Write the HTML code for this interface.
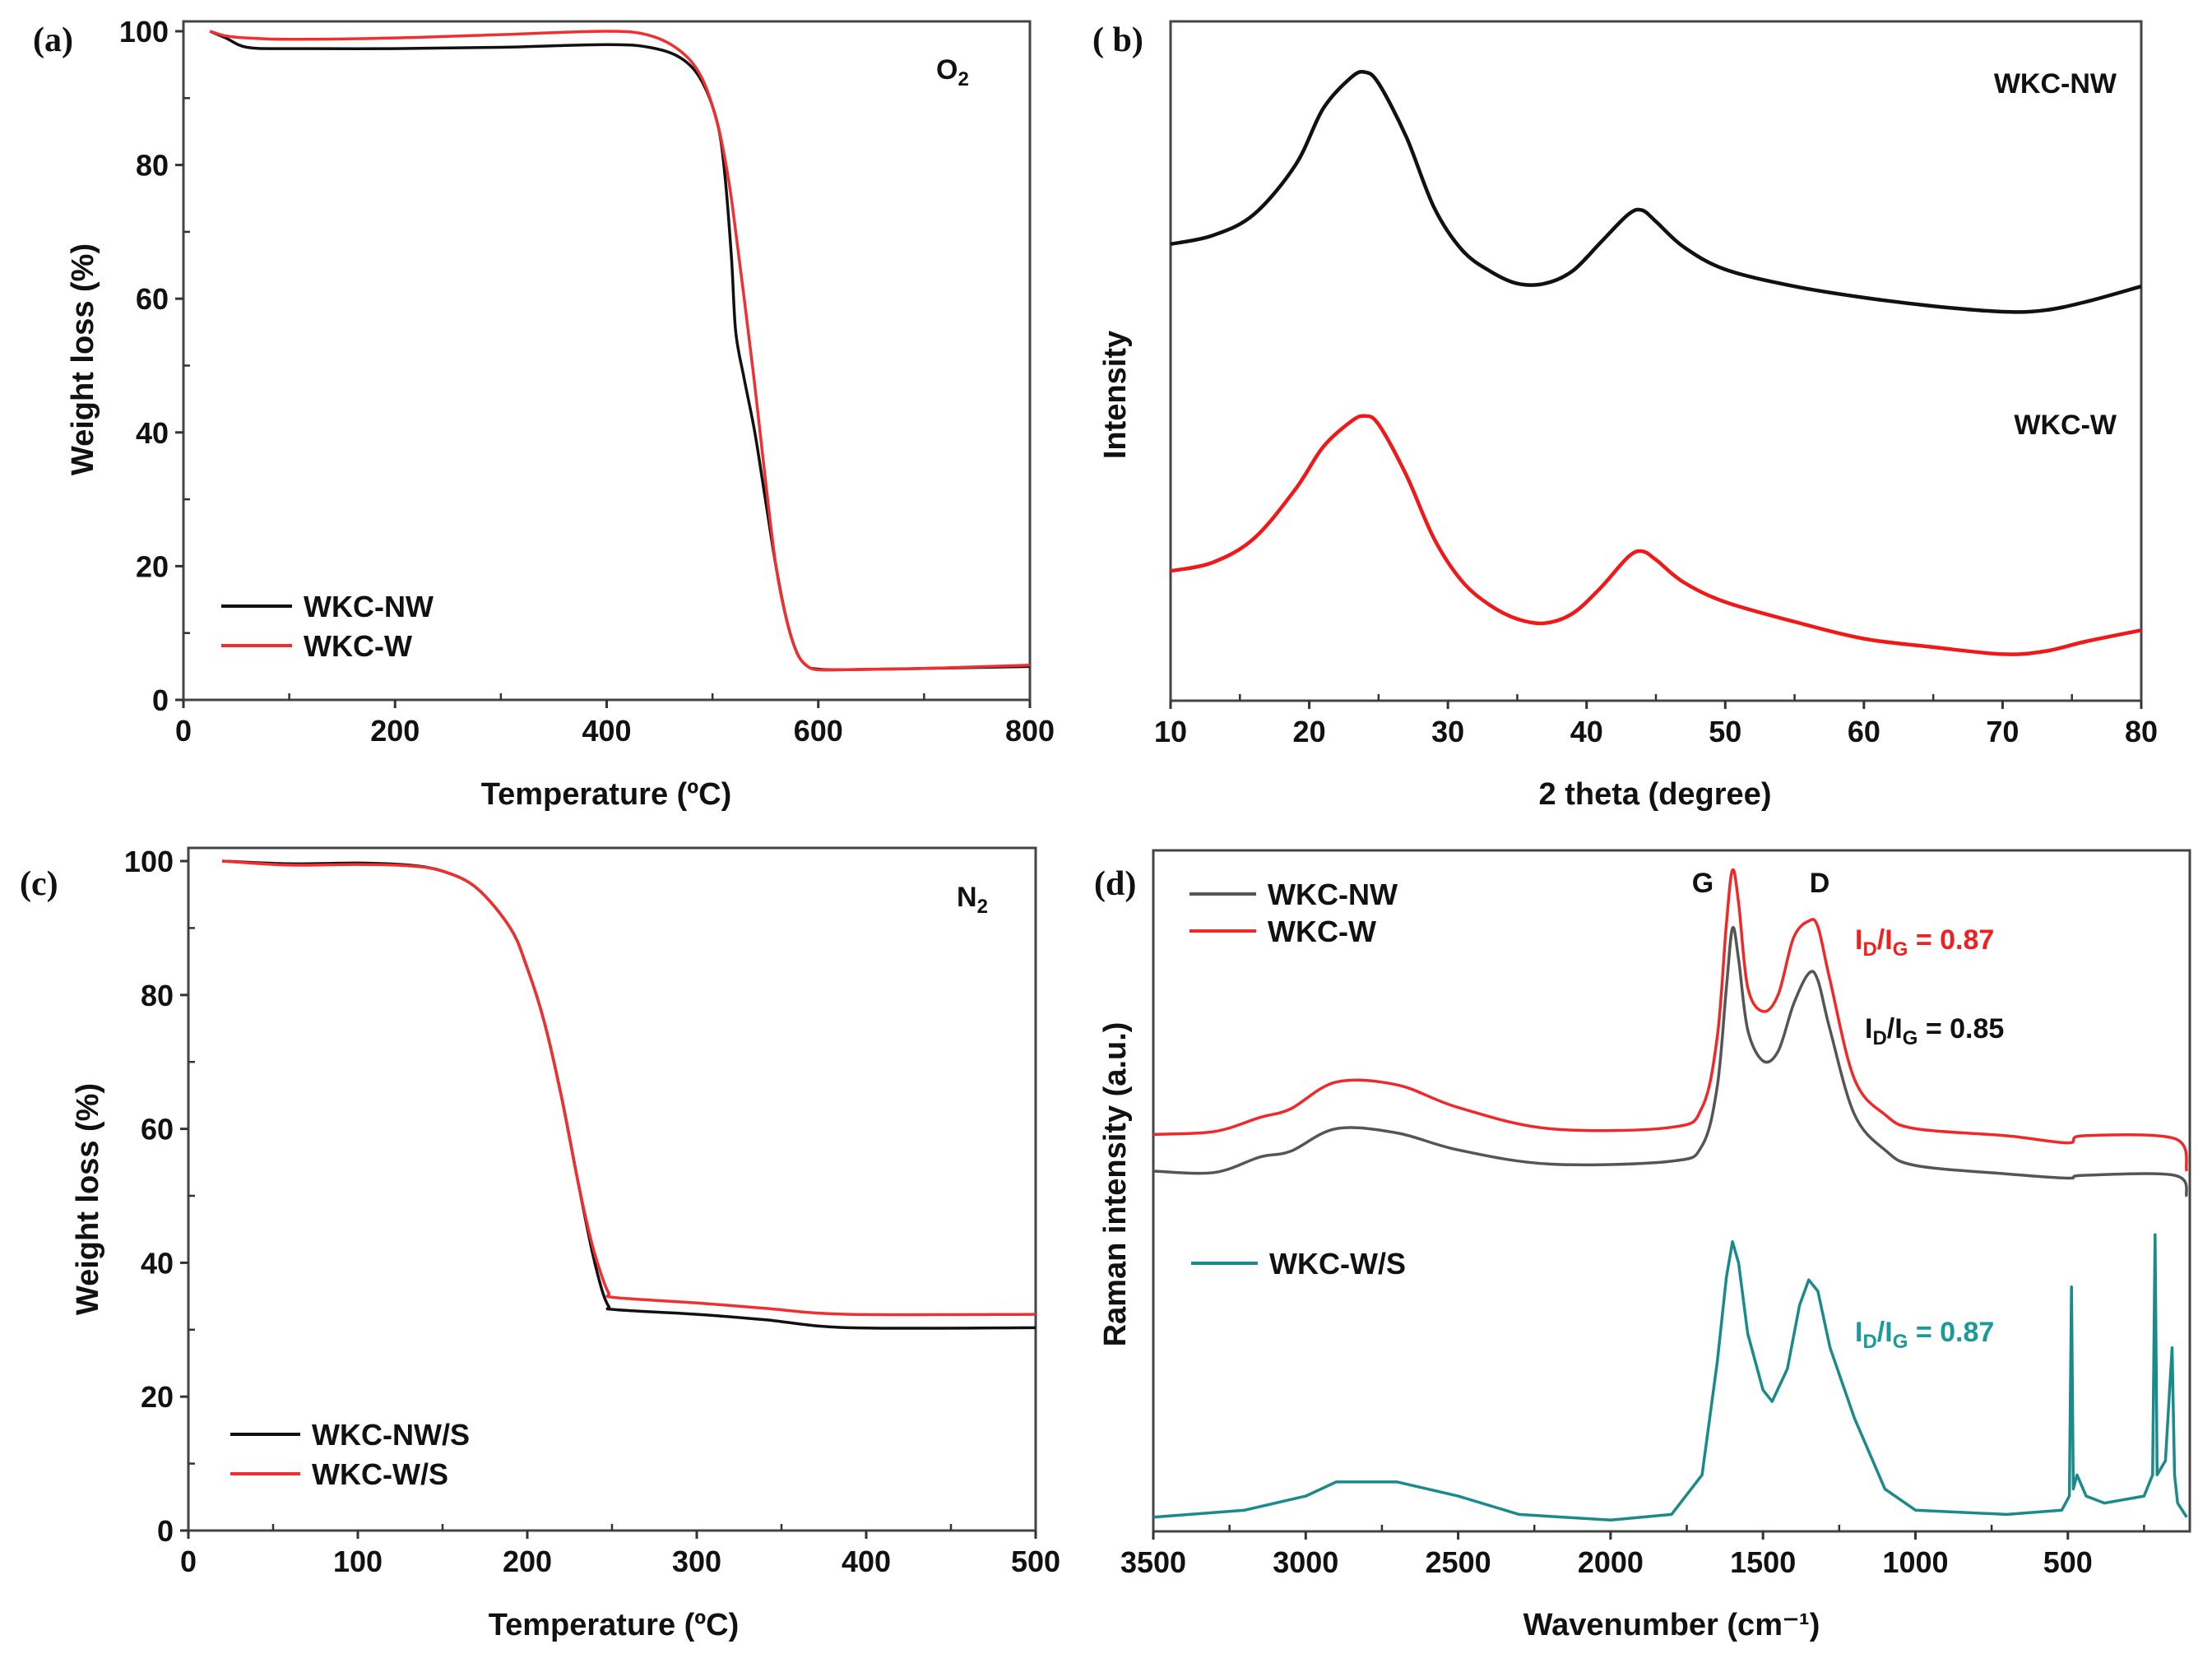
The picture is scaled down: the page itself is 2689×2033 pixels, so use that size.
<!DOCTYPE html>
<html><head><meta charset="utf-8"><style>
html,body{margin:0;padding:0;background:#fff;}
svg{display:block;}
</style></head>
<body>
<svg id="fig" width="2689" height="2033" viewBox="0 0 2689 2033" xmlns="http://www.w3.org/2000/svg"></svg>
<script>
// ---- Panel (a): TGA in O2 ----
const aTemp_NW = [25,40,60,100,200,300,400,440,470,490,505,512,518,522,530,540,550,560,570,580,590,600,620,700,800];
const aWt_NW   = [100,99,97.6,97.4,97.4,97.6,98,97.6,96,92.5,86,78,66,55,48,40,30,20,12,7,5,4.6,4.5,4.7,5];
const aTemp_W  = [25,40,60,100,200,300,400,440,470,490,505,515,522,530,540,550,560,570,580,590,600,620,700,800];
const aWt_W    = [100,99.3,99,98.8,99,99.5,100,99.4,97,93,86,78,70,60,47,33,20,12,7,5,4.5,4.5,4.7,5.2];
// ---- Panel (b): XRD ----
const b2theta = [10,13,16,19,21,23,24,25,27,29,31,33,35,37,39,41,43,44,45,47,50,55,60,65,70,73,76,80];
const bInt_NW = [324,330,345,380,420,442,446,438,400,350,320,305,296,296,305,325,345,348,340,322,306,294,286,280,276,277,283,294];
const bInt_W  = [92,98,115,150,180,198,202,196,160,115,85,68,58,55,62,80,102,106,100,84,70,56,44,38,33,35,42,50];
// ---- Panel (c): TGA in N2 ----
const cTemp_NW = [20,60,100,130,150,170,190,200,210,220,230,238,244,248,252,300,340,390,500];
const cWt_NW   = [100,99.6,99.7,99.4,98.5,96,90,84,76,65,52,42,36,33.5,33,32.3,31.5,30.3,30.3];
const cTemp_W  = [20,60,100,130,150,170,190,200,210,220,230,238,244,248,252,300,340,390,500];
const cWt_W    = [100,99.4,99.5,99.3,98.5,96,90,84,76,65,52,43,38,35.5,34.8,34,33.2,32.3,32.3];
// ---- Panel (d): Raman ----
const dWave_NW = [3500,3300,3150,3050,2900,2700,2500,2200,1800,1700,1650,1620,1600,1580,1550,1500,1450,1400,1350,1320,1280,1200,1100,1000,700,500,450,150,110];
const dInt_NW  = [255,254,265,269,285,282,270,260,262,273,315,385,427,405,355,333,340,373,395,390,355,295,270,259,253,250,252,252,237];
const dInt_W   = [281,283,293,299,318,316,300,285,286,300,350,430,468,445,385,368,380,420,432,428,390,320,295,285,280,275,280,278,255];
const dWave_WS = [3500,3200,3000,2900,2700,2500,2300,2000,1800,1700,1650,1620,1600,1580,1550,1500,1470,1420,1380,1350,1320,1280,1200,1150,1100,1000,700,520,495,488,482,470,440,380,250,222,214,207,180,158,150,140,110];
const dInt_WS  = [10,15,25,35,35,25,12,8,12,40,120,180,205,190,140,100,92,115,160,178,170,130,80,55,30,15,12,15,25,173,30,40,25,20,25,40,210,40,50,130,40,20,10];

const svg = document.getElementById('fig');
const NS = 'http://www.w3.org/2000/svg';
const SANS = '"Liberation Sans",Arial,sans-serif';
function mk(tag, attrs, parent){ const e=document.createElementNS(NS,tag); for(const k in attrs) e.setAttribute(k,attrs[k]); (parent||svg).appendChild(e); return e; }
function txt(s, x, y, size, opts, parent){ opts=opts||{}; const t=mk('text',{x:x,y:y,'font-size':size,'font-weight':opts.weight||'bold',fill:opts.fill||'#111','text-anchor':opts.anchor||'middle','font-family':opts.family||SANS},parent); if(opts.rot) t.setAttribute('transform','rotate(-90 '+x+' '+y+')'); t.textContent=s; return t; }

function pathD(pts, smooth){
  if(!smooth) return pts.map((p,i)=>(i?'L':'M')+p[0].toFixed(1)+' '+p[1].toFixed(1)).join(' ');
  let d='M'+pts[0][0].toFixed(1)+' '+pts[0][1].toFixed(1);
  for(let i=0;i<pts.length-1;i++){
    const p0=pts[Math.max(0,i-1)],p1=pts[i],p2=pts[i+1],p3=pts[Math.min(pts.length-1,i+2)];
    const k=1/6;
    let c1=[p1[0]+(p2[0]-p0[0])*k,p1[1]+(p2[1]-p0[1])*k];
    let c2=[p2[0]-(p3[0]-p1[0])*k,p2[1]-(p3[1]-p1[1])*k];
    d+=' C'+c1[0].toFixed(1)+' '+c1[1].toFixed(1)+' '+c2[0].toFixed(1)+' '+c2[1].toFixed(1)+' '+p2[0].toFixed(1)+' '+p2[1].toFixed(1);
  }
  return d;
}

function panel(p){
  const g = mk('g',{});
  
  
  const X = v => p.x0 + (v - p.xmin)/(p.xmax - p.xmin)*(p.x1 - p.x0);
  const Y = v => p.y0 - (v - p.ymin)/(p.ymax - p.ymin)*(p.y0 - p.y1);
  const fr = mk('rect',{x:p.x0,y:p.top,width:p.x1-p.x0,height:p.y0-p.top,fill:'none',stroke:'#444','stroke-width':3},g);
  
  
  p.xticks.forEach(v=>{
    const l=mk('line',{x1:X(v),x2:X(v),y1:p.y0,y2:p.y0+10,stroke:'#333','stroke-width':3},g);
    
    
    const t=txt(String(v),X(v),p.y0+50,36,{},g);
    
    
  });
  (p.xminor||[]).forEach(v=>{ mk('line',{x1:X(v),x2:X(v),y1:p.y0,y2:p.y0-8,stroke:'#333','stroke-width':2.5},g); });
  (p.yticks||[]).forEach(v=>{
    const l=mk('line',{x1:p.x0-10,x2:p.x0,y1:Y(v),y2:Y(v),stroke:'#333','stroke-width':3},g);
    
    
    const t=txt(String(v),p.x0-18,Y(v)+13,36,{anchor:'end'},g);
    
    
  });
  (p.yminor||[]).forEach(v=>{ mk('line',{x1:p.x0,x2:p.x0+8,y1:Y(v),y2:Y(v),stroke:'#333','stroke-width':2.5},g); });
  p.series.forEach(s=>{
    const pts = s.xs.map((v,i)=>[X(v),Y(s.ys[i])]);
    const path = mk('path',{d:pathD(pts,s.smooth),fill:'none',stroke:s.color,'stroke-width':s.w||3.5,'stroke-linejoin':'round'},g);
    
    
  });
  return g;
}

const yt100=[0,20,40,60,80,100], ym100=[10,30,50,70,90];
panel({name:'panel-a-tga-o2',x0:223,x1:1252,top:26,y0:851,y1:38,xmin:0,xmax:800,ymin:0,ymax:100,
  xticks:[0,200,400,600,800],xminor:[100,300,500,700],yticks:yt100,yminor:ym100,
  series:[{xs:aTemp_NW,ys:aWt_NW,color:'#111',name:'wkc-nw-o2-line',smooth:1},{xs:aTemp_W,ys:aWt_W,color:'#f03030',name:'wkc-w-o2-line',smooth:1}]});
panel({name:'panel-b-xrd',x0:1423,x1:2603,top:26,y0:852,y1:26,xmin:10,xmax:80,ymin:0,ymax:482,
  xticks:[10,20,30,40,50,60,70,80],xminor:[15,25,35,45,55,65,75],
  series:[{xs:b2theta,ys:bInt_NW,color:'#111',name:'wkc-nw-xrd-line',w:4.5,smooth:1},{xs:b2theta,ys:bInt_W,color:'#f01818',name:'wkc-w-xrd-line',w:4.5,smooth:1}]});
panel({name:'panel-c-tga-n2',x0:229,x1:1259,top:1031,y0:1861,y1:1047,xmin:0,xmax:500,ymin:0,ymax:100,
  xticks:[0,100,200,300,400,500],xminor:[50,150,250,350,450],yticks:yt100,yminor:ym100,
  series:[{xs:cTemp_NW,ys:cWt_NW,color:'#111',name:'wkc-nw-s-n2-line',smooth:1},{xs:cTemp_W,ys:cWt_W,color:'#f03030',name:'wkc-w-s-n2-line',smooth:1}]});
panel({name:'panel-d-raman',x0:1402,x1:2662,top:1034,y0:1862,y1:1034,xmin:3500,xmax:100,ymin:0,ymax:482,
  xticks:[3500,3000,2500,2000,1500,1000,500],xminor:[3250,2750,2250,1750,1250,750,250],
  series:[{xs:dWave_NW,ys:dInt_NW,color:'#555',name:'wkc-nw-raman-line',smooth:1},{xs:dWave_NW,ys:dInt_W,color:'#f02828',name:'wkc-w-raman-line',smooth:1},{xs:dWave_WS,ys:dInt_WS,color:'#1a8a8a',name:'wkc-w-s-raman-line',w:3.5}]});

const serif='"Liberation Serif",serif';
[['(a)',40,62],['( b)',1328,62],['(c)',24,1088],['(d)',1330,1088]].forEach(a=>{
  const t=txt(a[0],a[1],a[2],42,{anchor:'start',family:serif,fill:'#111'});
  
  
});
const tt=[['Temperature (\u00BAC)',737,978,0,'x-axis-title-a'],['2 theta (degree)',2012,978,0,'x-axis-title-b'],['Temperature (\u00BAC)',746,1988,0,'x-axis-title-c'],['Wavenumber (cm\u207B\u00B9)',2032,1988,0,'x-axis-title-d'],
 ['Weight loss (%)',113,437,1,'y-axis-title-a'],['Intensity',1368,480,1,'y-axis-title-b'],['Weight loss (%)',119,1458,1,'y-axis-title-c'],['Raman intensity (a.u.)',1368,1440,1,'y-axis-title-d']];
tt.forEach(a=>{ const t=txt(a[0],a[1],a[2],38,{rot:a[3]});   });

function legend(x1,x2,y,color,label,name){
  const g=mk('g',{});
  
  
  mk('line',{x1:x1,x2:x2,y1:y,y2:y,stroke:color,'stroke-width':4},g);
  txt(label,x2+14,y+13,36,{anchor:'start'},g);
}
legend(269,355,737,'#111','WKC-NW','legend-entry-a-nw');
legend(269,355,785,'#f03030','WKC-W','legend-entry-a-w');
legend(280,365,1744,'#111','WKC-NW/S','legend-entry-c-nw-s');
legend(280,365,1792,'#f03030','WKC-W/S','legend-entry-c-w-s');
legend(1446,1527,1087,'#555','WKC-NW','legend-entry-d-nw');
legend(1446,1527,1132,'#f02828','WKC-W','legend-entry-d-w');
legend(1448,1529,1536,'#1a8a8a','WKC-W/S','legend-entry-d-w-s');

function ann(html,x,y,color,name,anchor){
  const t=mk('text',{x:x,y:y,'font-size':34,'font-weight':'bold',fill:color,'text-anchor':anchor||'start','font-family':SANS});
  
  
  t.innerHTML=html; return t;
}
ann('O<tspan font-size="24" dy="8">2</tspan>',1138,96,'#111','atmosphere-o2-label');
ann('N<tspan font-size="24" dy="8">2</tspan>',1163,1102,'#111','atmosphere-n2-label');
ann('WKC-NW',2573,113,'#111','xrd-label-nw','end');
ann('WKC-W',2573,528,'#111','xrd-label-w','end');
ann('G',2070,1085,'#111','g-band-label','middle');
ann('D',2212,1085,'#111','d-band-label','middle');
ann('I<tspan font-size="24" dy="8">D</tspan><tspan dy="-8">/I</tspan><tspan font-size="24" dy="8">G</tspan><tspan dy="-8"> = 0.87</tspan>',2255,1154,'#f02020','id-ig-w-label');
ann('I<tspan font-size="24" dy="8">D</tspan><tspan dy="-8">/I</tspan><tspan font-size="24" dy="8">G</tspan><tspan dy="-8"> = 0.85</tspan>',2267,1262,'#111','id-ig-nw-label');
ann('I<tspan font-size="24" dy="8">D</tspan><tspan dy="-8">/I</tspan><tspan font-size="24" dy="8">G</tspan><tspan dy="-8"> = 0.87</tspan>',2255,1631,'#1a9a9a','id-ig-w-s-label');
</script>
</body></html>
